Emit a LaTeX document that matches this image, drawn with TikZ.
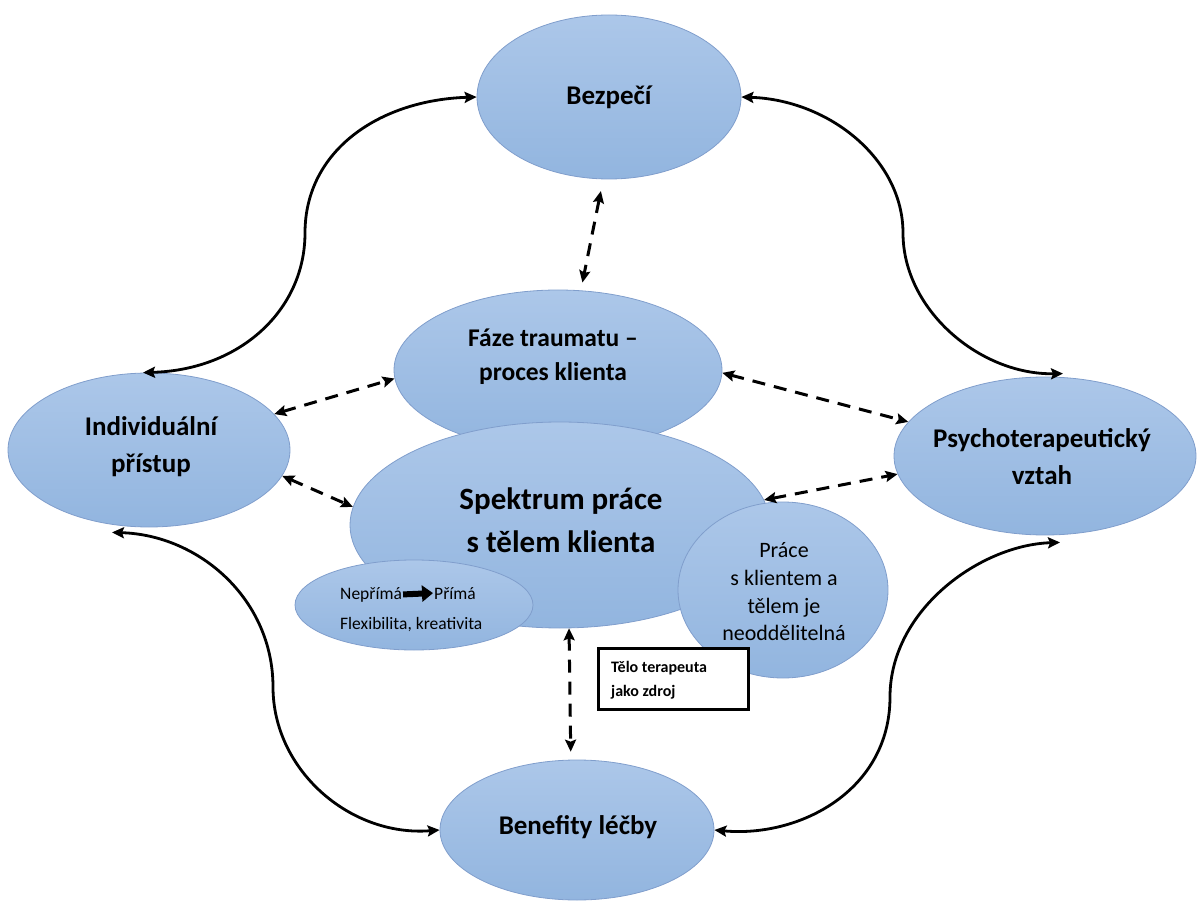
\documentclass[tikz,border=0pt]{standalone}
\usepackage{fontspec}
\setmainfont{Carlito}
\usetikzlibrary{shapes.geometric,arrows.meta,calc}
\definecolor{elltop}{RGB}{172,199,233}
\definecolor{ellbot}{RGB}{146,181,223}
\definecolor{ellline}{RGB}{128,158,204}
\tikzset{
  ell/.style={ellipse, draw=ellline, line width=0.8pt, top color=elltop, bottom color=ellbot, inner sep=0pt},
  lbl/.style={align=center, inner sep=0pt, font=\bfseries\fontsize{27}{37}\selectfont},
  solidarrow/.style={{Stealth[length=12pt,width=11pt,inset=2pt]}-{Stealth[length=12pt,width=11pt,inset=2pt]}, line width=2.8pt},
  dasharrow/.style={{Stealth[length=12pt,width=11pt,inset=2pt]}-{Stealth[length=12pt,width=11pt,inset=2pt]}, line width=3pt, dash pattern=on 13pt off 9pt},
}
\begin{document}
\begin{tikzpicture}[x=1pt,y=-1pt]
\useasboundingbox (0,0) rectangle (1203,901);
% main ellipses
\node[ell, minimum width=264pt, minimum height=164pt] (bez) at (609,97) {};
\node[lbl] (bezt) at (bez) {Bezpečí};
\node[ell, minimum width=282pt, minimum height=154pt] (ind) at (149,450) {};
\node[lbl] (indt) at (151,447) {Individuální\\přístup};
\node[ell, minimum width=302pt, minimum height=158pt] (psy) at (1045,456) {};
\node[lbl] (psyt) at (1042,457) {Psychoterapeutický\\vztah};
\node[ell, minimum width=274pt, minimum height=140pt] (ben) at (577,830) {};
\node[lbl] (bent) at (578,827) {Benefity léčby};
\node[ell, minimum width=328pt, minimum height=160pt] (faze) at (558,370) {};
\node[lbl, font=\bfseries\fontsize{25.5}{34}\selectfont] (fazet) at (553,357) {Fáze traumatu –\\proces klienta};
\node[ell, minimum width=420pt, minimum height=206pt] (spek) at (560,525) {};
\node[lbl, font=\bfseries\fontsize{31}{43}\selectfont] (spekt) at (561,520) {Spektrum práce\\s tělem klienta};
% small ellipses
\node[ell, minimum width=238pt, minimum height=90pt] (nep) at (414,605) {};
\node[anchor=base west, inner sep=1pt, font=\fontsize{17.5}{21}\selectfont] (nep1) at (339,599) {Nepřímá};
\node[anchor=base west, inner sep=1pt, font=\fontsize{17.5}{21}\selectfont] (nep2) at (433,599) {Přímá};
\node[anchor=base west, inner sep=1pt, font=\fontsize{17.5}{21}\selectfont] (flex) at (339,629) {Flexibilita, kreativita};
\draw[line width=6pt, -{Triangle[length=11pt,width=16pt]}] (nep1.east) -- (nep2.west);
\node[ell, minimum width=210pt, minimum height=176pt] (prace) at (783,590) {};
\node[align=center, inner sep=0pt, font=\fontsize{22}{27.7}\selectfont] (pracet) at (784,592) {Práce\\s klientem a\\tělem je\\neoddělitelná};
% box
\node[draw, line width=2.5pt, fill=white, minimum width=150pt, minimum height=61pt, anchor=north west, inner sep=0pt] (box) at (597,647) {};
\node[anchor=west, align=left, inner sep=0pt, font=\bfseries\fontsize{16}{24}\selectfont] (boxt) at (611,680) {Tělo terapeuta\\jako zdroj};
% solid curved connectors
\draw[solidarrow] ($(ind.north)+(-6,0)$) .. controls (240,370) and (305,310) .. (305,233) .. controls (305,150) and (380,100) .. (bez.west);
\draw[solidarrow] (bez.east) .. controls (830,100) and (903,160) .. (903,233) .. controls (903,310) and (980,375) .. ($(psy.north)+(18,-3)$);
\draw[solidarrow] ($(ind.south)+(-37,5)$) .. controls (200,535) and (273,600) .. (273,687) .. controls (273,770) and (350,837) .. (ben.west);
\draw[solidarrow] ($(psy.south)+(15,7)$) .. controls (980,545) and (890,610) .. (890,697) .. controls (890,790) and (800,838) .. (ben.east);
% dashed connectors
\draw[dasharrow, shorten <=12pt, shorten >=8pt] (bez.266) -- (faze.74);
\draw[dasharrow] (ind.16) -- (faze.183);
\draw[dasharrow] (ind.-11) -- (spek.175);
\draw[dasharrow] (faze.-1) -- (psy.166);
\draw[dasharrow] (spek.7.6) -- (psy.187.5);
\draw[dasharrow, shorten >=8pt] (spek.275) -- (ben.95);
\end{tikzpicture}
\end{document}
